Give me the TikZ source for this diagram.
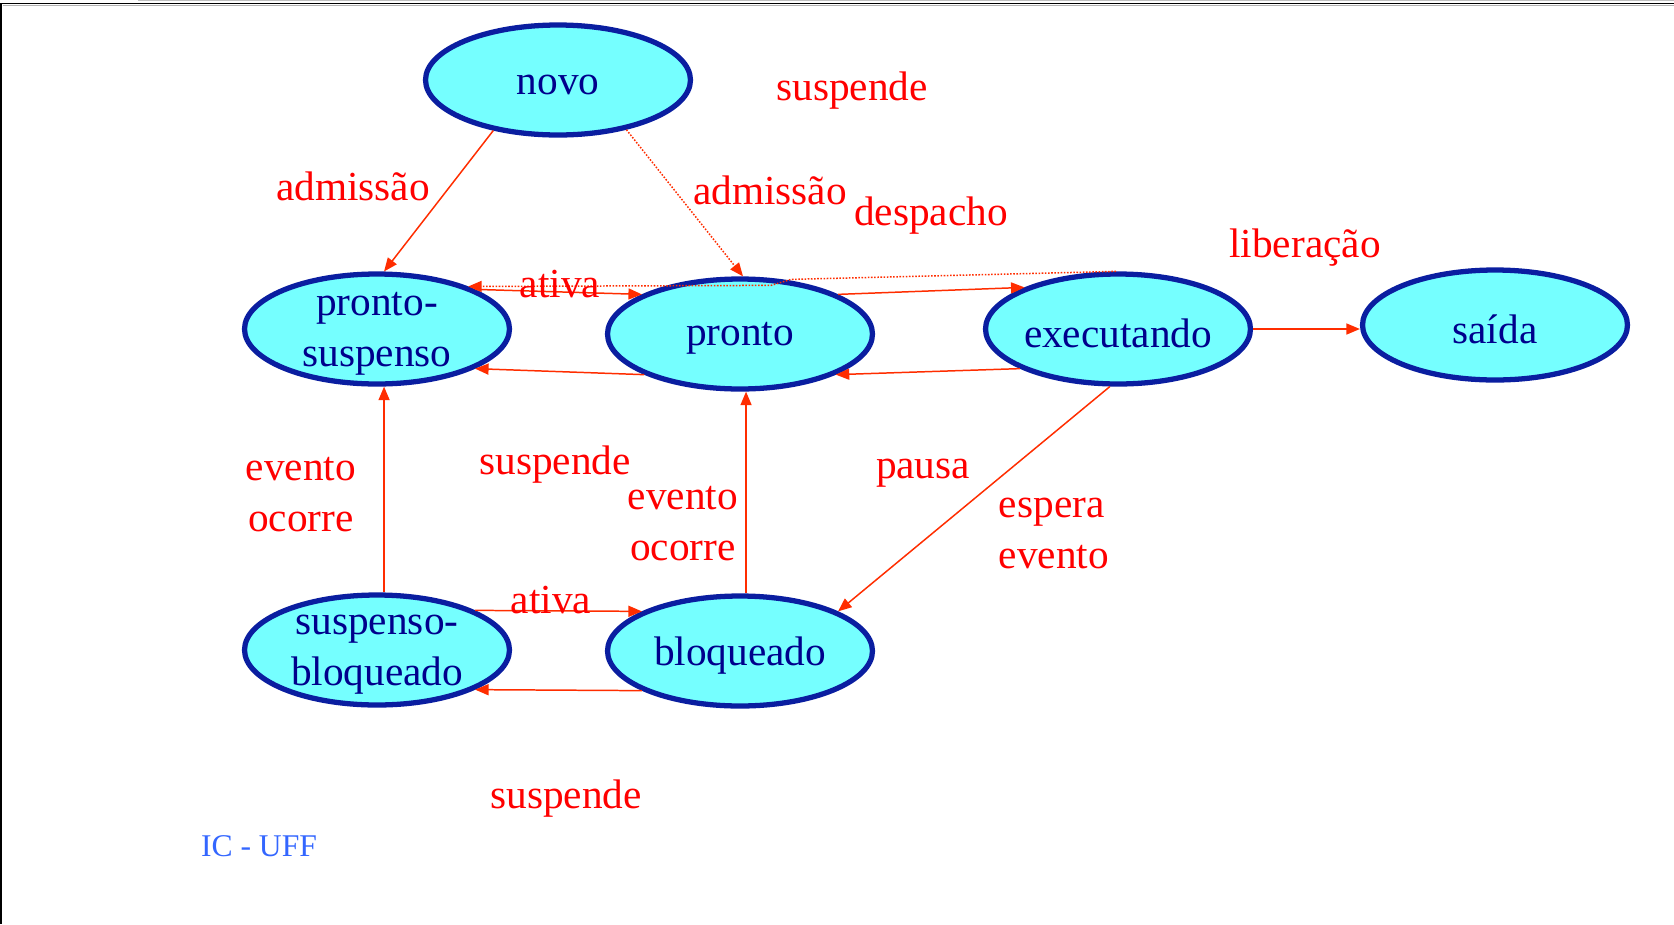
\documentclass[tikz,border=0pt]{standalone}
\usepackage{fontspec}
\setmainfont{Liberation Serif}
\usetikzlibrary{shapes.geometric, arrows.meta}

\definecolor{statefill}{RGB}{117,255,255}
\definecolor{stateline}{RGB}{10,30,160}
\definecolor{statetxt}{RGB}{0,0,140}
\definecolor{labelred}{RGB}{255,0,0}
\definecolor{wirered}{RGB}{255,45,0}
\definecolor{icblue}{RGB}{51,102,255}

\begin{document}
\begin{tikzpicture}[
  x=0.02cm, y=-0.02cm,
  state/.style={ellipse, draw=stateline, line width=3pt, fill=statefill, minimum width=5.3cm, minimum height=2.2cm, inner sep=0pt},
  statetext/.style={text=statetxt, font=\fontsize{23.5}{29}\selectfont, align=center, yshift=-0.09cm},
  lbl/.style={text=labelred, font=\fontsize{23.5}{29}\selectfont, align=center, inner sep=0pt},
  wire/.style={-{Triangle[length=0.27cm, width=0.22cm]}, draw=wirered, line width=0.85pt},
  dotwire/.style={wire, dash pattern=on 0.9pt off 0.9pt}
]
\useasboundingbox (0,0) rectangle (1674,924);

% Window frame
\fill[black!25] (138,0) rectangle (1674,1.2);
\draw[black, line width=0.75pt] (0,3.5) -- (1674,3.5);
\draw[black!30, line width=0.5pt] (3,5.5) -- (1674,5.5);
\draw[black, line width=1.1pt] (1,3.5) -- (1,924);

% States
\node[state, label={[statetext]center:novo}] (novo) at (558,80) {};
\node[state, label={[statetext]center:{pronto-\\suspenso}}] (ps) at (377,329) {};
\node[state, label={[statetext]center:pronto}] (pronto) at (740,334) {};
\node[state, label={[statetext]center:executando}] (exec) at (1118,329) {};
\node[state, label={[statetext]center:saída}] (saida) at (1495,325) {};
\node[state, label={[statetext]center:{suspenso-\\bloqueado}}] (sb) at (377,650) {};
\node[state, label={[statetext]center:bloqueado}] (bloq) at (740,651) {};

% Transitions
\draw[wire] (novo.218) -- (ps.83);
\draw[dotwire] (novo.324) -- (pronto.87);
\draw[dotwire] (exec.92) -- ++(-325,8) -- ++(-20,6) -- (ps.25);
\draw[wire] (ps.22) -- (pronto.158);
\draw[wire] (pronto.22) -- (exec.156);
\draw[wire] (exec.202) -- (pronto.337);
\draw[wire] (pronto.203) -- (ps.338);
\draw[wire] (exec.east) -- (exec.east -| saida.west);
\draw[wire] (exec.262) -- (bloq.22);
\draw[wire] (bloq.84) -- (bloq.84 |- pronto.south);
\draw[wire] (sb.83) -- (sb.83 |- ps.south);
\draw[wire] (sb.22) -- (bloq.158);
\draw[wire] (bloq.202) -- (sb.338);

% Labels
\node[lbl] (susp1) at (852,91) {suspende};
\node[lbl] (adm1) at (353,186) {admissão};
\node[lbl] (adm2) at (770,190) {admissão};
\node[lbl] (desp) at (931,216) {despacho};
\node[lbl] (lib) at (1305,248) {liberação};
\node[lbl] (ativa1) at (560,284) {ativa};
\node[lbl] (evoc1) at (301,495) {evento\\ocorre};
\node[lbl] (susp2) at (555,465) {suspende};
\node[lbl] (evoc2) at (683,524) {evento\\ocorre};
\node[lbl] (pausa) at (923,473) {pausa};
\node[lbl, align=left] (espera) at (1054,533) {espera\\evento};
\node[lbl] (ativa2) at (551,600) {ativa};
\node[lbl] (susp3) at (566,799) {suspende};

% Footer
\node[text=icblue, font=\fontsize{18}{22}\selectfont] (ic) at (259,846) {IC - UFF};

\end{tikzpicture}
\end{document}
